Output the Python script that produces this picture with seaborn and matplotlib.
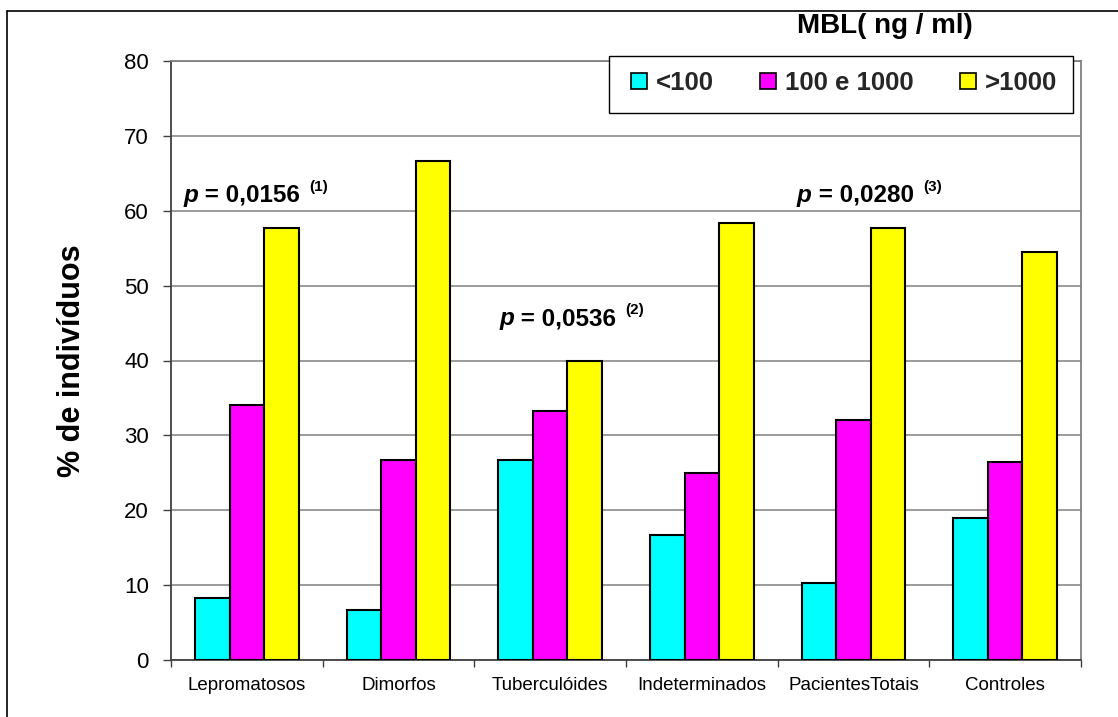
import matplotlib
matplotlib.use("Agg")
import matplotlib.pyplot as plt
from matplotlib.patches import Patch, Rectangle
from matplotlib.lines import Line2D
import seaborn as sns
import pandas as pd

# ---- data -----------------------------------------------------------------
grupos = ["Lepromatosos", "Dimorfos", "Tuberculóides", "Indeterminados",
          "PacientesTotais", "Controles"]
faixas = ["<100", "100 e 1000", ">1000"]
menor_100 = [8.3, 6.7, 26.7, 16.7, 10.3, 19.0]
entre_100_1000 = [34.0, 26.7, 33.3, 25.0, 32.0, 26.5]
maior_1000 = [57.7, 66.7, 40.0, 58.3, 57.7, 54.5]
cores = ["#00FFFF", "#FF00FF", "#FFFF00"]

p_valores = ["0,0156", "0,0536", "0,0280"]
p_notas = ["1", "2", "3"]
p_pos = [(-0.42, 61.2), (1.663, 44.7), (3.627, 61.2)]

titulo_legenda = "MBL( ng / ml)"
rotulo_y = "% de indivíduos"

df = pd.DataFrame({
    "grupo": grupos * 3,
    "MBL": [faixas[0]] * 6 + [faixas[1]] * 6 + [faixas[2]] * 6,
    "pct": menor_100 + entre_100_1000 + maior_1000,
})

# ---- figure ---------------------------------------------------------------
sns.set_theme(style="white")
plt.rcParams["font.family"] = ["Liberation Sans", "DejaVu Sans"]

W, H = 1118, 717
fig = plt.figure(figsize=(W / 100, H / 100), dpi=100)
fig.patch.set_facecolor("white")

def fx(px):
    return px / W

def fy(py):
    return 1 - py / H

ax = fig.add_axes([fx(171), fy(660), fx(1081) - fx(171), fy(61) - fy(660)])

sns.barplot(data=df, x="grupo", y="pct", hue="MBL", order=grupos,
            hue_order=faixas, palette=cores, saturation=1, width=0.685,
            gap=0, edgecolor="black", linewidth=1.5, errorbar=None, ax=ax,
            zorder=3)
if ax.get_legend() is not None:
    ax.get_legend().remove()

ax.set_xlim(-0.5, len(grupos) - 0.5)
ax.set_ylim(0, 80)
ax.set_yticks(range(0, 81, 10))
ax.yaxis.grid(True, color="#808080", linewidth=1.1, zorder=0)
ax.xaxis.grid(False)
ax.set_axisbelow(True)

for s in ["top", "right"]:
    ax.spines[s].set_color("#808080")
    ax.spines[s].set_linewidth(1.3)
for s in ["left", "bottom"]:
    ax.spines[s].set_color("#404040")
    ax.spines[s].set_linewidth(1.3)

ax.tick_params(axis="y", which="major", direction="out", length=6,
               width=1, color="#404040", labelsize=16, pad=10,
               left=True, labelcolor="black")
ax.tick_params(axis="x", which="major", length=0, labelsize=13.5, pad=12.5,
               labelcolor="black")
ax.set_xticks(range(len(grupos)))
ax.set_xticklabels(grupos)
ax.set_xticks([i - 0.5 for i in range(len(grupos) + 1)], minor=True)
ax.tick_params(axis="x", which="minor", direction="out", length=5,
               width=1, color="#404040", bottom=True)

ax.set_xlabel("")
ax.set_ylabel(rotulo_y, fontsize=22, fontweight="bold", color="black")
ax.yaxis.set_label_coords(-0.092, 0.5)

# p-value annotations: italic p, bold value and superscript note
for (x, y), val, nota in zip(p_pos, p_valores, p_notas):
    t1 = ax.text(x, y, "p", fontsize=17.5, fontweight="bold",
                 fontstyle="italic", ha="left", va="baseline",
                 color="black", zorder=6)
    t2 = ax.annotate(" = " + val, xy=(1, 0), xycoords=t1, ha="left",
                     va="bottom", fontsize=17.5, fontweight="bold",
                     color="black", zorder=6)
    ax.annotate("(" + nota + ")", xy=(1, 0), xycoords=t2,
                xytext=(7, 9.5), textcoords="offset points", ha="left",
                va="bottom", fontsize=11, fontweight="bold",
                color="black", zorder=6)

# legend box and entries
fig.add_artist(Rectangle((fx(609), fy(113)), fx(1073) - fx(609),
                         fy(56) - fy(113), transform=fig.transFigure,
                         facecolor="white", edgecolor="black",
                         linewidth=1.0, zorder=4))
handles = [Patch(facecolor=c, edgecolor="black", linewidth=1.2)
           for c in cores]
leg = fig.legend(handles, faixas, loc="center left",
                 bbox_to_anchor=(fx(631), fy(83)), ncol=3, frameon=False,
                 borderpad=0, borderaxespad=0, handlelength=0.62,
                 handleheight=0.62, handletextpad=0.35, columnspacing=1.8,
                 prop={"size": 18.5, "weight": "bold"})
leg.set_zorder(5)

fig.text(fx(885), fy(33), titulo_legenda, ha="center", va="baseline",
         fontsize=20, fontweight="bold", color="black")

# chart-area frame (top and left edges)
fig.add_artist(Line2D([fx(7), fx(7)], [fy(11), 0], transform=fig.transFigure,
                      color="black", linewidth=1.2))
fig.add_artist(Line2D([fx(7), 1], [fy(11), fy(11)], transform=fig.transFigure,
                      color="black", linewidth=1.2))

fig.savefig("out.png", dpi=100)
